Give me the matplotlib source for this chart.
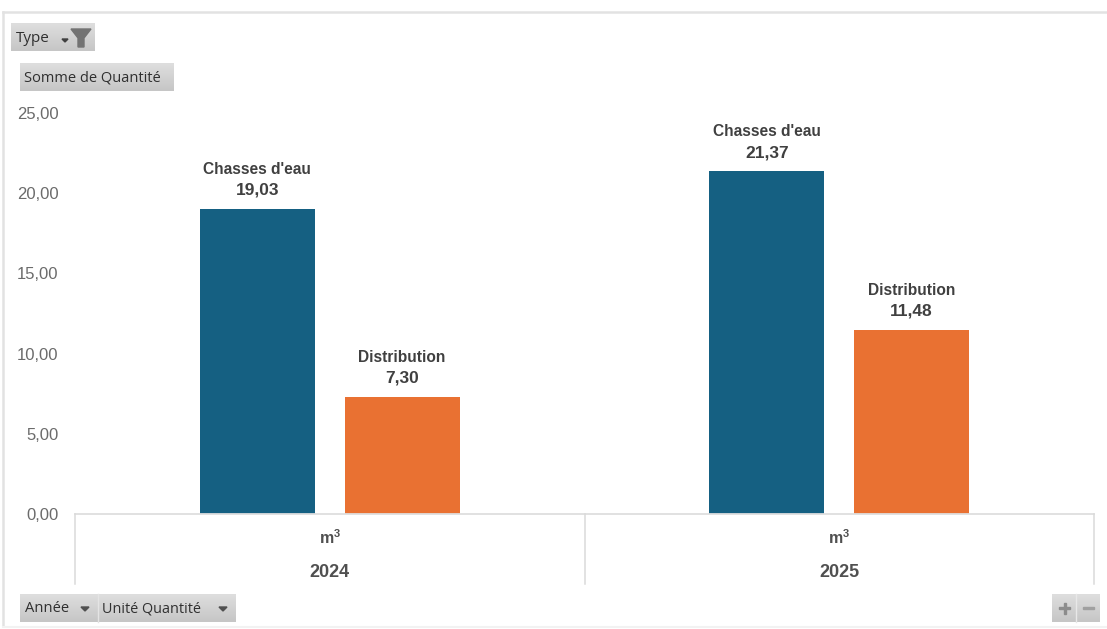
import numpy as np
import matplotlib
matplotlib.use("Agg")
import matplotlib.pyplot as plt
from matplotlib.patches import Polygon, Rectangle

plt.rcParams["font.family"] = ["Liberation Sans", "DejaVu Sans"]

# data
years = ["2024", "2025"]
unit = "m$^{\\mathregular{3}}$"
series = ["Chasses d'eau", "Distribution"]
chasses = [19.03, 21.37]
distribution = [7.30, 11.48]
colors = ["#156082", "#E97132"]
yticks = [0, 5, 10, 15, 20, 25]

W, H = 1107, 629
fig = plt.figure(figsize=(W / 100, H / 100), dpi=100, facecolor="white")


def px_axes(left, top, right, bottom):
    return [left / W, 1 - bottom / H, (right - left) / W, (bottom - top) / H]


# overlay in pixel coordinates, for the pivot buttons and the frame
ui = fig.add_axes([0, 0, 1, 1], zorder=3)
ui.set_xlim(0, W)
ui.set_ylim(H, 0)
ui.axis("off")

ax = fig.add_axes(px_axes(75, 113, 1094, 514), zorder=2)
ax.patch.set_alpha(0)
ax.set_xlim(0, 2)
ax.set_ylim(0, 25)

width = 0.2257
offset = 0.142
x = np.arange(len(years)) + 0.5
for i, (name, vals) in enumerate(zip(series, [chasses, distribution])):
    pos = x + (-offset if i == 0 else offset)
    ax.bar(pos, vals, width, color=colors[i])
    for p, v in zip(pos, vals):
        label = f"{v:.2f}".replace(".", ",")
        ax.annotate(label, (p, v), xytext=(0, 11), textcoords="offset pixels",
                    ha="center", va="bottom", fontsize=12.5, fontweight="bold",
                    color="#404040")
        ax.annotate(name, (p, v), xytext=(0, 32), textcoords="offset pixels",
                    ha="center", va="bottom", fontsize=11.2, fontweight="bold",
                    color="#404040")

ax.set_yticks(yticks)
ax.set_yticklabels([f"{t:.2f}".replace(".", ",") for t in yticks],
                   fontsize=12, color="#6b6b6b")
ax.tick_params(axis="y", length=0, pad=12)
ax.set_xticks([])
for s in ["top", "right", "left"]:
    ax.spines[s].set_visible(False)
ax.spines["bottom"].set_color("#dedede")
ax.spines["bottom"].set_linewidth(1.3)

# category labels under the axis
trans = ax.get_xaxis_transform()
for xi, year in zip(x, years):
    ax.text(xi, -0.058, unit, transform=trans, ha="center", va="center",
            fontsize=11.5, fontweight="bold", color="#505050")
    ax.text(xi, -0.146, year, transform=trans, ha="center", va="center",
            fontsize=13, fontweight="bold", color="#505050")

# multi level axis separators
for px in [75, 584.5, 1094]:
    ui.plot([px, px], [514, 584], color="#dadada", lw=1.1)

# outer chart frame
ui.plot([3, W], [12, 12], color="#e2e2e2", lw=1.8)
ui.plot([3, 3], [12, 625], color="#e2e2e2", lw=1.8)
ui.plot([3, W], [627, 627], color="#f2f2f2", lw=1.5)

grad = np.linspace(0, 1, 32).reshape(-1, 1)
cmap = matplotlib.colors.LinearSegmentedColormap.from_list("btn", ["#dedede", "#c6c6c6"])


def button(left, top, right, bottom):
    ui.imshow(grad, extent=(left, right, bottom, top), cmap=cmap, aspect="auto", zorder=1)


button(11, 23, 95, 51)
ui.text(16, 38, "Type", fontsize=11, va="center", color="#303030", family="Open Sans", zorder=2)
ui.add_patch(Polygon([[62, 39], [68, 39], [65, 42]], color="#404040", zorder=2))
ui.add_patch(Polygon([[71, 29], [91, 29], [84, 38], [84, 47], [78, 47], [78, 38]],
                     color="#737373", zorder=2))

button(20, 63, 174, 91)
ui.text(24, 78, "Somme de Quantité", fontsize=10.5, va="center", color="#303030",
        family="Open Sans", zorder=2)

button(20, 594, 236, 622)
ui.text(25, 609, "Année", fontsize=10.6, va="center", color="#303030", family="Open Sans", zorder=2)
ui.add_patch(Polygon([[81, 607], [89, 607], [85, 611]], color="#505050", zorder=2))
ui.text(102, 609, "Unité Quantité", fontsize=10.4, va="center", color="#303030",
        family="Open Sans", zorder=2)
ui.add_patch(Polygon([[219, 607], [227, 607], [223, 611]], color="#505050", zorder=2))
ui.plot([98, 98], [594, 622], color="#e4e4e4", lw=1, zorder=2)

button(1052, 594, 1100, 622)
ui.plot([1076, 1076], [594, 622], color="#e8e8e8", lw=1, zorder=2)
ui.add_patch(Rectangle((1059, 607), 11, 2, color="#8c8c8c", zorder=2))
ui.add_patch(Rectangle((1063.5, 602.5), 2, 11, color="#8c8c8c", zorder=2))
ui.add_patch(Rectangle((1083, 607), 11, 2, color="#a0a0a0", zorder=2))
ui.set_xlim(0, W)
ui.set_ylim(H, 0)

fig.savefig("out.png", dpi=100)
